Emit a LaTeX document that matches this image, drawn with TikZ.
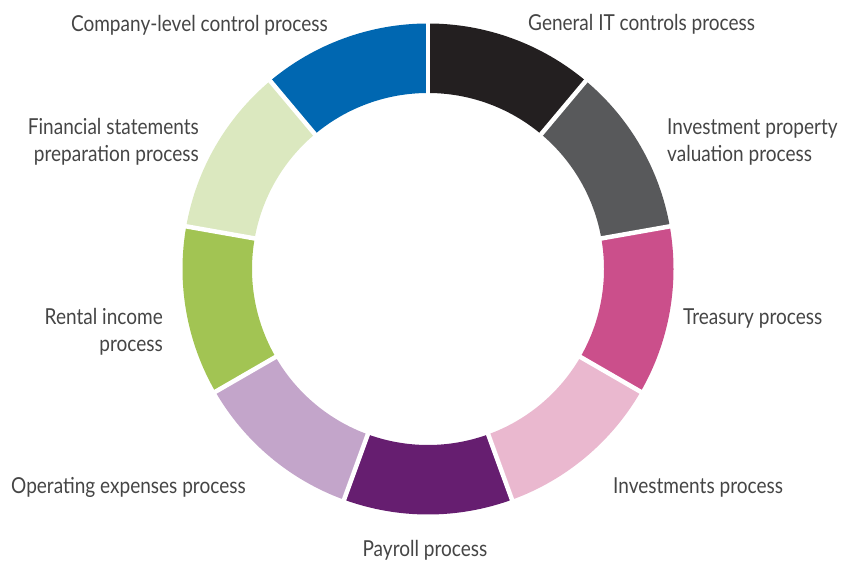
\documentclass[tikz,border=0pt]{standalone}
\usepackage{fontspec}
\setmainfont[FakeStretch=0.865]{Lato}
\usetikzlibrary{calc}
\definecolor{labelgray}{HTML}{454545}
\definecolor{cblue}{HTML}{0067B1}
\definecolor{cblack}{HTML}{231F20}
\definecolor{cdarkgray}{HTML}{58595B}
\definecolor{cpink}{HTML}{CB4F8B}
\definecolor{clightpink}{HTML}{EAB8CF}
\definecolor{cpurple}{HTML}{661E70}
\definecolor{clavender}{HTML}{C3A5CA}
\definecolor{cgreen}{HTML}{A2C453}
\definecolor{clightgreen}{HTML}{DBE8BF}
\begin{document}
\begin{tikzpicture}[x=1pt,y=1pt,
  lbl/.style={text=labelgray, font=\fontsize{22}{27}\selectfont, inner sep=0pt},
  gap/.style={white, line width=4.5pt}]
\useasboundingbox (0,0) rectangle (841,562);
\coordinate (c) at (428,293);
% ring segments, clockwise from the top
\foreach \a/\col in {90/cblack, 50/cdarkgray, 10/cpink, -30/clightpink, -70/cpurple,
                     -110/clavender, -150/cgreen, 170/clightgreen, 130/cblue}{
  \fill[\col] ($(c)+(\a:245.5)$) arc[start angle=\a, delta angle=-40, radius=245.5]
    -- ($(c)+(\a-40:176)$) arc[start angle=\a-40, delta angle=40, radius=176] -- cycle;
}
% white separators between segments
\foreach \a in {90,50,10,-30,-70,-110,-150,170,130}{
  \draw[gap] ($(c)+(\a:170)$) -- ($(c)+(\a:252)$);
}
% labels (multi-line nodes are anchored on their last line)
\node[lbl, anchor=base east] (company) at (328,530) {Company-level control process};
\node[lbl, anchor=base west] (generalit) at (528,531) {General IT controls process};
\node[lbl, anchor=base west, align=left] (invprop) at (667,400) {Investment property\\valuation process};
\node[lbl, anchor=base east, align=right] (finstat) at (199,400) {Financial statements\\preparation process};
\node[lbl, anchor=base west] (treasury) at (683,237) {Treasury process};
\node[lbl, anchor=base east, align=right] (rental) at (163,210) {Rental income\\process};
\node[lbl, anchor=base west] (investments) at (613,68) {Investments process};
\node[lbl, anchor=base west] (opex) at (11,68) {Operating expenses process};
\node[lbl, anchor=base] (payroll) at (425,5.5) {Payroll process};
\end{tikzpicture}
\end{document}
